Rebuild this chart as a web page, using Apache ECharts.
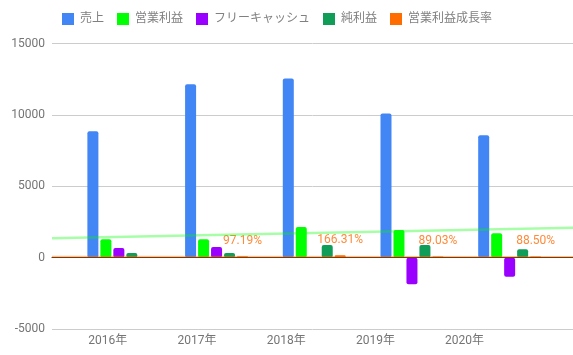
<!DOCTYPE html>
<html>
<head>
<meta charset="utf-8">
<script src="https://cdn.jsdelivr.net/npm/echarts@6/dist/echarts.min.js"></script>
<style>html,body{margin:0;padding:0;background:#fff}#c{width:573px;height:355px}</style>
</head>
<body>
<div id="c"></div>
<script>
var categories = ['2016年', '2017年', '2018年', '2019年', '2020年'];
var seriesNames = ['売上', '営業利益', 'フリーキャッシュ', '純利益', '営業利益成長率'];
var sales = [8870, 12160, 12560, 10110, 8590];
var operatingProfit = [1290, 1290, 2150, 1940, 1710];
var freeCash = [680, 750, 40, -1860, -1330];
var netProfit = [330, 330, 890, 890, 590];
var growthRate = [null, 97.19, 166.31, 89.03, 88.50];
var opTrend = [1358, 2100];      // trendline of 営業利益 (left end, right end)
var growthTrend = [75, 70];      // trendline of 営業利益成長率
var yTicks = [-5000, 0, 5000, 10000, 15000];

var colors = ['#4285f4', '#00ff00', '#9900ff', '#0f9d58', '#ff6d00'];
var FONT = 'Roboto, "Noto Sans CJK JP", sans-serif';
var chart = echarts.init(document.getElementById('c'));
var yMin = yTicks[0], yMax = yTicks[yTicks.length - 1], yInt = yTicks[1] - yTicks[0];

var values = [sales, operatingProfit, freeCash, netProfit, growthRate];
var barSeries = values.map(function (d, i) {
  var s = {
    name: seriesNames[i], type: 'bar', xAxisIndex: 1, yAxisIndex: 1,
    data: d, barWidth: 11, barGap: '18%',
    itemStyle: { color: colors[i], borderRadius: 2 }
  };
  if (i === 4) {
    s.label = {
      show: true, position: 'top', distance: 9, color: '#ff8a3a',
      fontFamily: FONT, fontSize: 12,
      formatter: function (p) { return p.value.toFixed(2) + '%'; }
    };
  }
  return s;
});

var option = {
  animation: false,
  textStyle: { fontFamily: FONT },
  legend: {
    data: seriesNames, left: 62, top: 13, padding: 0,
    itemWidth: 12, itemHeight: 12, itemGap: 13, icon: 'rect',
    textStyle: { color: '#808080', fontSize: 12, fontFamily: FONT, padding: [0, 0, 0, 1] }
  },
  color: colors,
  grid: [
    { left: 52, right: 0, top: 43.7, bottom: 26 },
    { left: 70, width: 488.5, top: 43.7, bottom: 26 },
    { left: 63.2, width: 446, top: 43.7, bottom: 26 }
  ],
  xAxis: [
    { gridIndex: 0, type: 'value', min: 0, max: 1, z: 10,
      axisLine: { show: true, onZero: true, lineStyle: { color: '#7a3a0a', width: 1.2 } },
      axisTick: { show: false }, axisLabel: { show: false }, splitLine: { show: false } },
    { gridIndex: 1, type: 'category', data: categories,
      axisLine: { show: false }, axisTick: { show: false }, axisLabel: { show: false } },
    { gridIndex: 2, type: 'category', data: categories,
      axisLine: { show: false }, axisTick: { show: false },
      axisLabel: { color: '#757575', fontSize: 12, fontFamily: FONT, margin: 6 } }
  ],
  yAxis: [
    { gridIndex: 0, type: 'value', min: yMin, max: yMax, interval: yInt,
      axisLine: { show: false }, axisTick: { show: false },
      axisLabel: { color: '#757575', fontSize: 12, fontFamily: FONT, margin: 7,
        formatter: function (v) { return String(v); } },
      splitLine: { lineStyle: { color: '#cccccc', width: 1 } } },
    { gridIndex: 1, type: 'value', min: yMin, max: yMax, show: false },
    { gridIndex: 2, type: 'value', min: yMin, max: yMax, show: false }
  ],
  series: barSeries.concat([
    { name: '営業利益 trend', type: 'line', xAxisIndex: 0, yAxisIndex: 0, z: 5,
      data: [[0, opTrend[0]], [1, opTrend[1]]], symbol: 'none', silent: true,
      lineStyle: { color: '#00ff00', width: 2.5, opacity: 0.35 } },
    { name: '営業利益成長率 trend', type: 'line', xAxisIndex: 0, yAxisIndex: 0, z: 5,
      data: [[0, growthTrend[0]], [1, growthTrend[1]]], symbol: 'none', silent: true,
      lineStyle: { color: '#ff6d00', width: 1.5, opacity: 0.45 } }
  ])
};
chart.setOption(option);
</script>
</body>
</html>
